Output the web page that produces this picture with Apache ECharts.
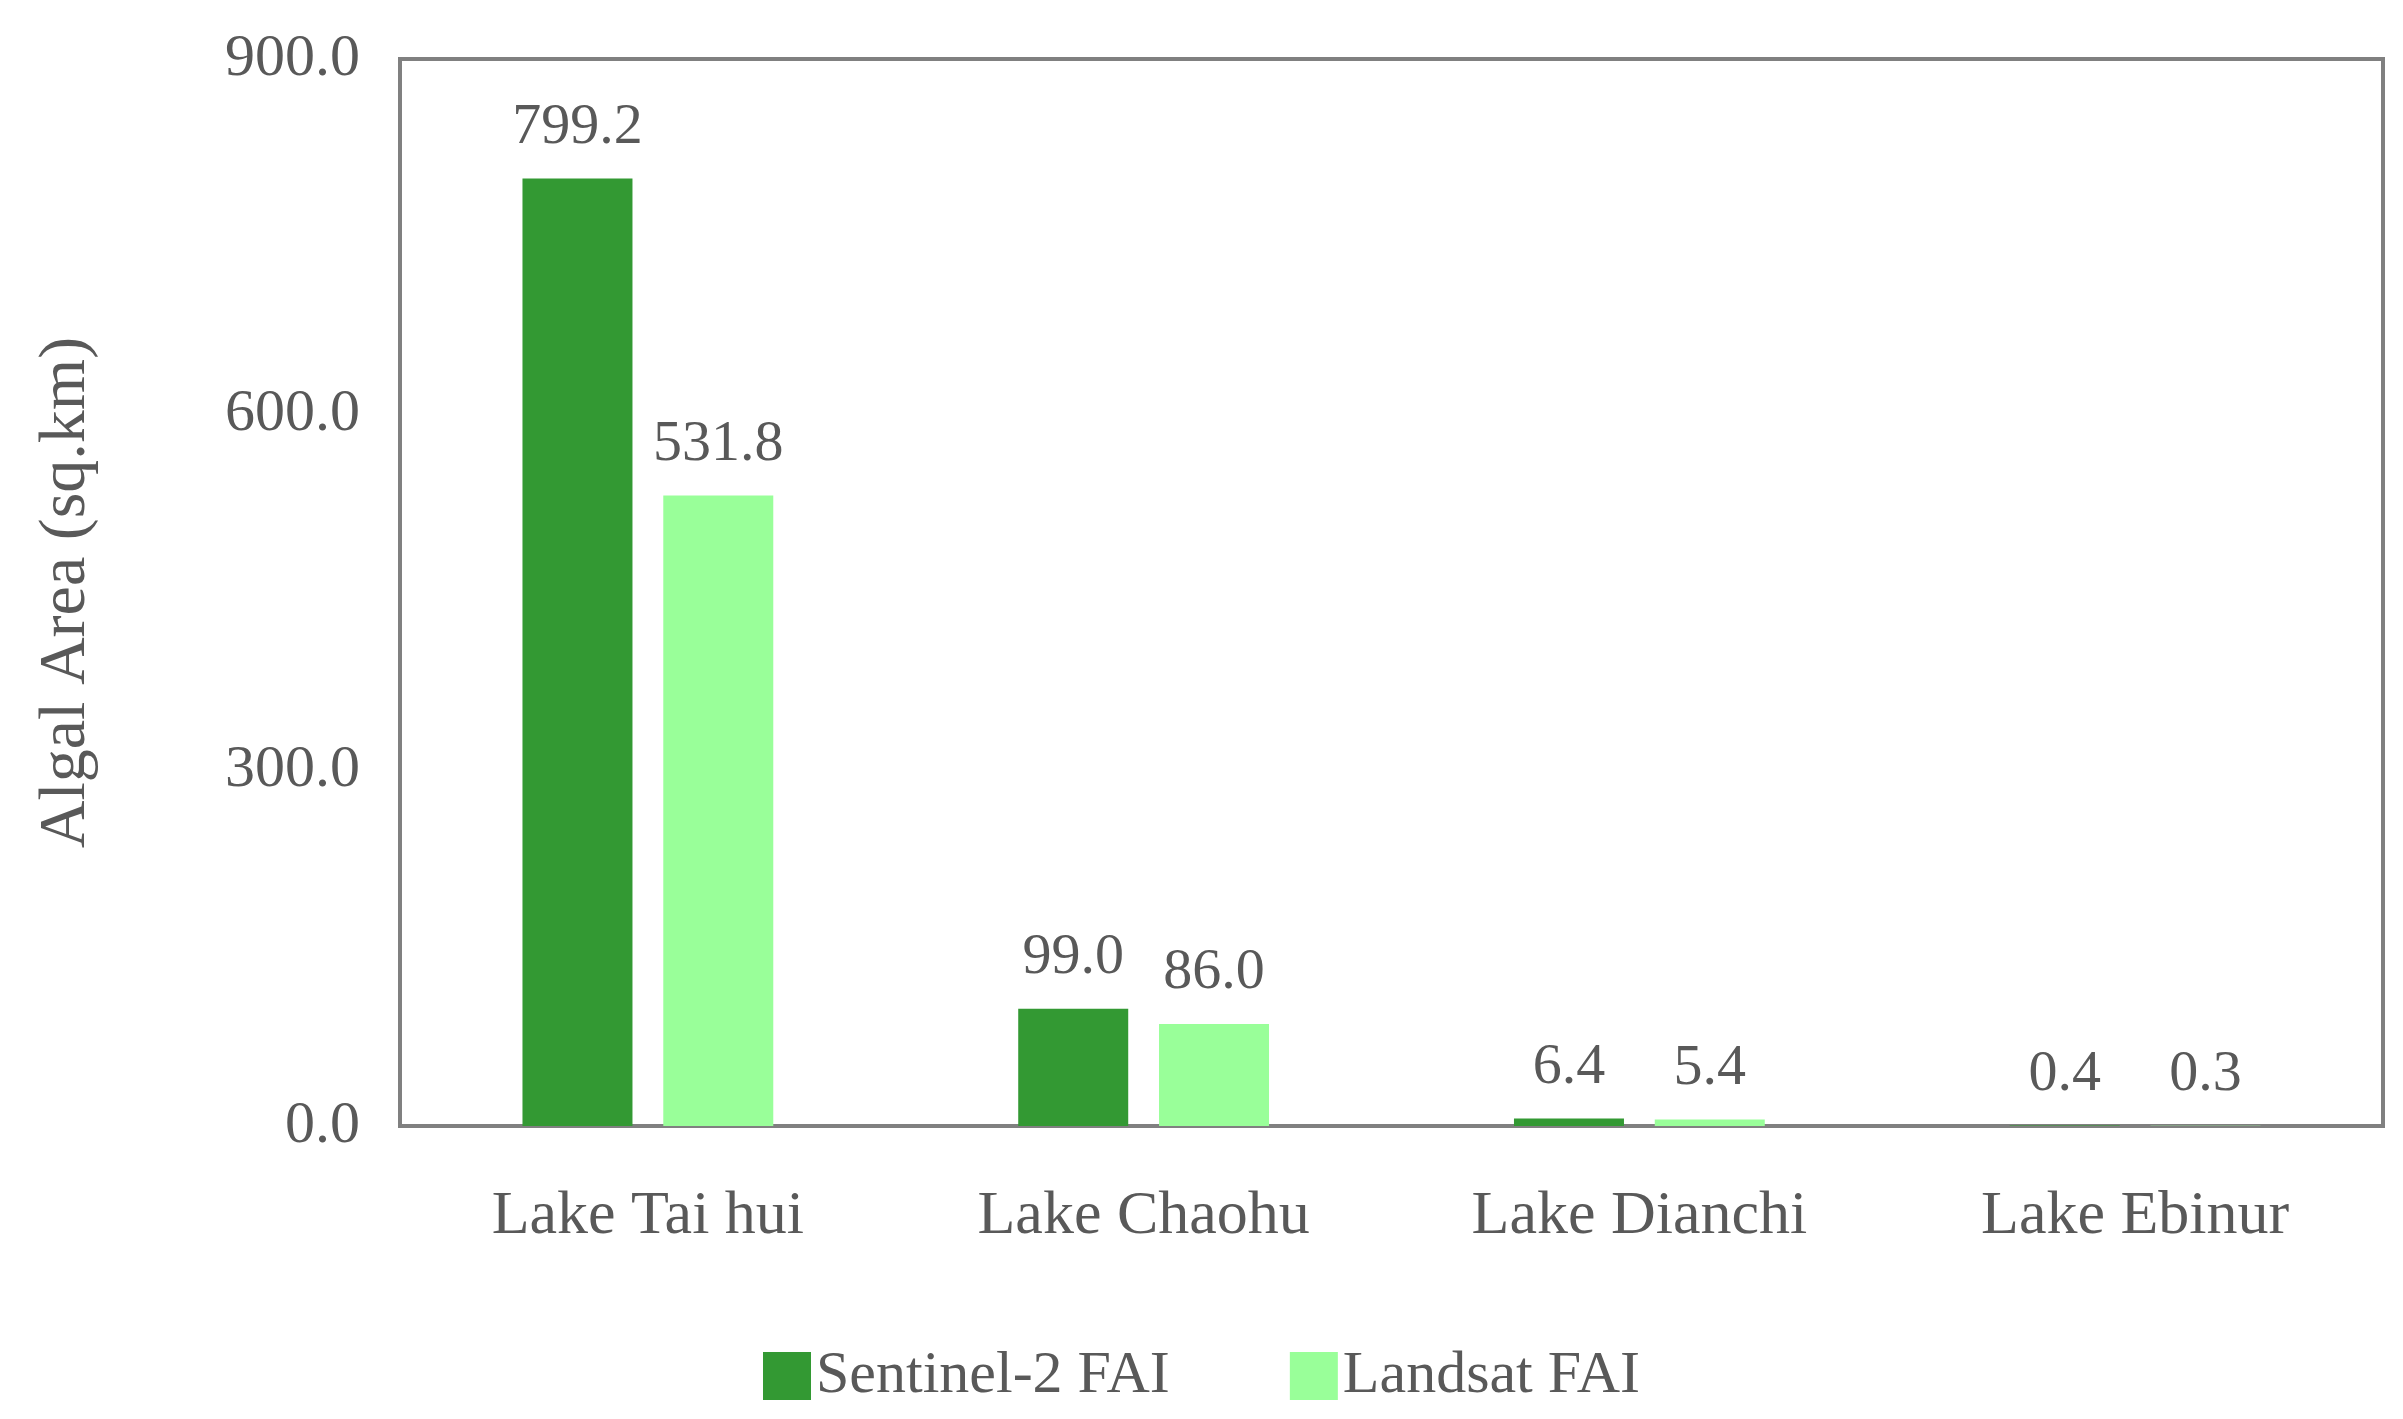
<!DOCTYPE html>
<html><head><meta charset="utf-8">
<script src="https://cdn.jsdelivr.net/npm/echarts@6/dist/echarts.min.js"></script>
<style>html,body{margin:0;padding:0;background:#fff}#c{width:2403px;height:1419px}</style>
</head><body><div id="c"></div>
<script>
const categories = ["Lake Tai hui","Lake Chaohu","Lake Dianchi","Lake Ebinur"];
const sentinel = [799.2, 99.0, 6.4, 0.4];
const landsat = [531.8, 86.0, 5.4, 0.3];
const yTicks = [0, 300, 600, 900];
const font = "'Liberation Serif','DejaVu Serif',serif";
const grey = "#595959";
const chart = echarts.init(document.getElementById('c'));
const lbl = {show:true, position:'top', distance:22, color:grey, fontSize:58, fontFamily:font, formatter:p=>p.value.toFixed(1)};
chart.setOption({
  animation:false,
  grid:{left:400, right:20, top:59, bottom:293, show:true, borderColor:'#808080', borderWidth:4},
  legend:{bottom:8, itemWidth:48, itemHeight:48, itemGap:120, textStyle:{color:grey, fontSize:60, fontFamily:font}, icon:'rect'},
  xAxis:{type:'category', data:categories, axisTick:{show:false},
    axisLine:{lineStyle:{color:'#808080', width:4}},
    axisLabel:{color:grey, fontSize:62, fontFamily:font, margin:60}},
  yAxis:{type:'value', min:0, max:900, interval:300, splitLine:{show:false},
    name:'Algal Area (sq.km)', nameLocation:'middle', nameGap:300, nameRotate:90,
    nameTextStyle:{color:grey, fontSize:66, fontFamily:font},
    axisLabel:{color:grey, fontSize:60, fontFamily:font, margin:40, formatter:v=>v.toFixed(1)}},
  series:[
    {name:'Sentinel-2 FAI', type:'bar', data:sentinel, barWidth:110, barGap:'28%', itemStyle:{color:'#339933'}, label:lbl},
    {name:'Landsat FAI', type:'bar', data:landsat, barWidth:110, itemStyle:{color:'#99FF99'}, label:lbl}
  ]
});
</script></body></html>
